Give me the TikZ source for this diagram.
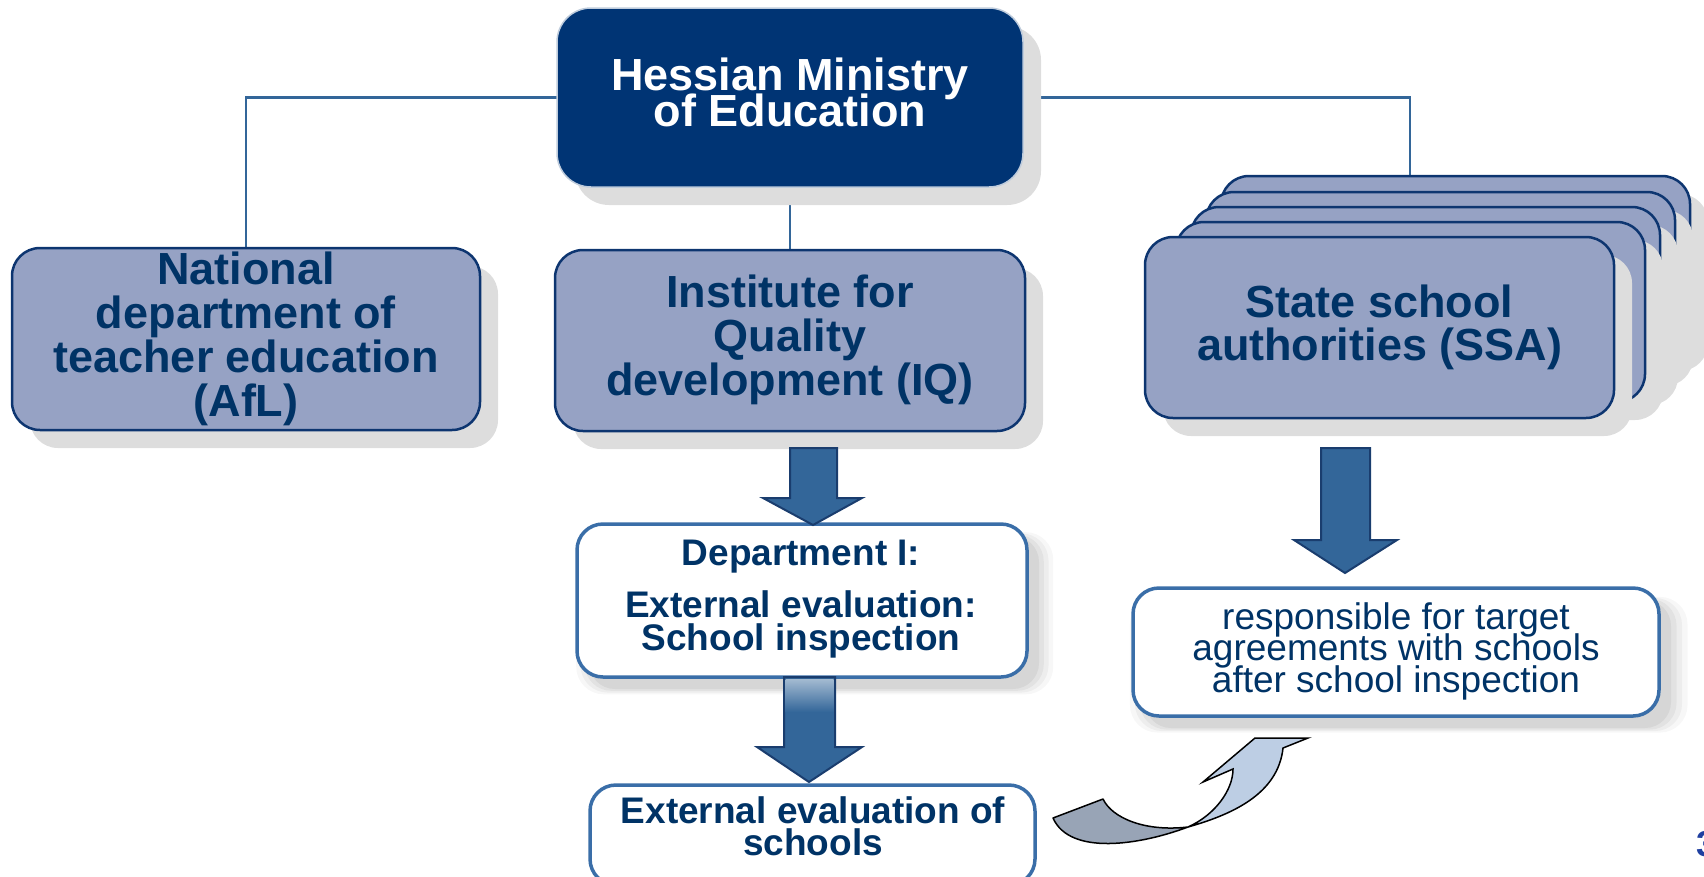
\documentclass[tikz,border=0pt]{standalone}
\usepackage{fontspec}
\setmainfont{Liberation Sans}
\usetikzlibrary{calc,shadows}
\definecolor{navy}{HTML}{003474}
\definecolor{txt}{HTML}{003366}
\definecolor{lav}{HTML}{96A2C4}
\definecolor{edge}{HTML}{0D3570}
\definecolor{arrowfill}{HTML}{336699}
\definecolor{arrowedge}{HTML}{1A3D6E}
\definecolor{linecol}{HTML}{336699}
\definecolor{shade}{HTML}{DDDDDD}
\definecolor{midedge}{HTML}{3A6EA8}
\definecolor{ribbondark}{HTML}{98A4B6}
\definecolor{ribbonlight}{HTML}{BDCEE4}
\definecolor{numblue}{HTML}{1F3FA0}
\newcommand{\tightlines}{\lineskiplimit=-100pt\lineskip=0pt}
\begin{document}
\begin{tikzpicture}[x=1pt,y=-1pt,
  every node/.style={inner sep=0pt, outer sep=0pt},
  hardshadow/.style={drop shadow={shadow xshift=18pt, shadow yshift=-18pt, fill=shade, opacity=1}},
  softshadow/.style={
    drop shadow={shadow xshift=12pt, shadow yshift=-12pt, fill=black, opacity=0.05, shadow scale=1.00},
    drop shadow={shadow xshift=12pt, shadow yshift=-12pt, fill=black, opacity=0.05, shadow scale=1.02},
    drop shadow={shadow xshift=12pt, shadow yshift=-12pt, fill=black, opacity=0.04, shadow scale=1.04},
    drop shadow={shadow xshift=12pt, shadow yshift=-12pt, fill=black, opacity=0.03, shadow scale=1.06}},
  lavbox/.style={draw=edge, line width=2.5pt, fill=lav, rounded corners=28pt, hardshadow},
  whitebox/.style={draw=midedge, line width=3.5pt, fill=white, rounded corners=26pt},
  bigtext/.style={align=center, text=txt, font=\bfseries\fontsize{45}{44}\selectfont\tightlines},
  blockarrow/.style={fill=arrowfill, draw=arrowedge, line width=2pt, line join=miter},
  conn/.style={draw=linecol, line width=2.8pt}]
\useasboundingbox (0,0) rectangle (1704,876);

% ---- connectors
\coordinate (ssatop) at (1410,176);
\node[minimum width=466pt, minimum height=179pt] (minpos) at (790,97.5) {};
\node[minimum width=468pt, minimum height=182pt] (natpos) at (246,339) {};
\node[minimum width=470pt, minimum height=181pt] (iqpos) at (790,340.5) {};
\draw[conn] (minpos.west) -| (natpos.north);
\draw[conn] (minpos.east) -| (ssatop);
\draw[conn] (minpos.south) -- (iqpos.north);

% ---- ministry
\node[fill=navy, draw=white!75!navy, line width=1.5pt, rounded corners=34pt,
      minimum width=466pt, minimum height=179pt, hardshadow] (min) at (790,97.5) {};
\node[align=center, text=white, font=\bfseries\fontsize{45}{36}\selectfont\tightlines] (minlabel) at (790,92)
  {Hessian Ministry\\of Education};

% ---- national dept
\node[lavbox, minimum width=468pt, minimum height=182pt] (nat) at (246,339) {};
\node[bigtext] (natlabel) at (246,339) {National\\department of\\teacher education\\(AfL)};

% ---- IQ
\node[lavbox, minimum width=470pt, minimum height=181pt] (iq) at (790,340.5) {};
\node[bigtext] (iqlabel) at (790,340) {Institute for\\Quality\\development (IQ)};

% ---- SSA stack
\node[lavbox, minimum width=469pt, minimum height=177pt] (ssa5) at (1455.5,264.5) {};
\node[lavbox, minimum width=469pt, minimum height=176pt] (ssa4) at (1440.5,280) {};
\node[lavbox, minimum width=469pt, minimum height=180pt] (ssa3) at (1425.5,297) {};
\node[lavbox, minimum width=469pt, minimum height=180pt] (ssa2) at (1410.5,312) {};
\node[lavbox, minimum width=469pt, minimum height=181pt] (ssa) at (1379.5,327.5) {};
\node[bigtext, font=\bfseries\fontsize{45}{43}\selectfont\tightlines] (ssalabel) at (1379.5,327) {State school\\authorities (SSA)};

% ---- Department I
\node[whitebox, softshadow, minimum width=450pt, minimum height=153pt] (dept) at (802,600.5) {};
\node[align=center, text=txt, font=\bfseries\fontsize{37}{33}\selectfont\tightlines] (deptlabel) at (801,599)
  {Department I:\\[19pt]External evaluation:\\School inspection};

% ---- External evaluation of schools
\node[whitebox, minimum width=445pt, minimum height=100pt] (ext) at (812.5,835) {};
\node[align=center, text=txt, font=\bfseries\fontsize{37}{32}\selectfont\tightlines] (extlabel) at (813,826)
  {External evaluation of\\schools};

% ---- responsible
\node[whitebox, softshadow, minimum width=526pt, minimum height=128pt] (resp) at (1396,652) {};
\node[align=center, text=txt, font=\fontsize{37}{31.5}\selectfont\tightlines] (resplabel) at (1396,651)
  {responsible for target\\agreements with schools\\after school inspection};

% ---- block arrows
\draw[blockarrow] (790,448) -- (837,448) -- (837,498) -- (862,498) -- (813,525) -- (763,498) -- (790,498) -- cycle;
\draw[blockarrow] (784,677) -- (835,677) -- (835,747) -- (862,747) -- (809,782) -- (757,747) -- (784,747) -- cycle;
\shade[top color=arrowfill!45!white, bottom color=arrowfill] (785.5,679) rectangle (833.5,712);
\draw[blockarrow] (1321,448) -- (1370,448) -- (1370,540) -- (1397,540) -- (1345,573) -- (1294,540) -- (1321,540) -- cycle;

% ---- curved ribbon arrow
\draw[fill=ribbondark, draw=black, line width=1.5pt, line join=round]
  (1053,818) -- (1103,799) .. controls (1112,818) and (1145,832) .. (1188,827)
  .. controls (1140,845) and (1070,856) .. (1053,818) -- cycle;
\draw[fill=ribbonlight, draw=black, line width=1.5pt, line join=miter]
  (1188,827) .. controls (1230,815) and (1278,795) .. (1283,748)
  -- (1308,738) -- (1255,738) -- (1203,782) -- (1233,769)
  .. controls (1233,790) and (1215,815) .. (1188,827) -- cycle;

% ---- page number
\node[anchor=west, text=numblue, font=\bfseries\fontsize{36}{36}\selectfont] (pg) at (1696,844) {3};
\end{tikzpicture}
\end{document}
